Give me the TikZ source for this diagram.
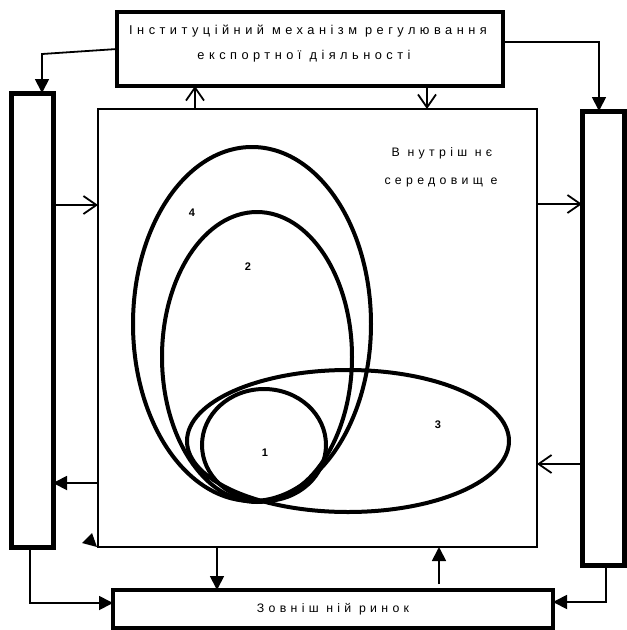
\documentclass[tikz,border=0pt]{standalone}
\usepackage{fontspec}
\setmainfont{Liberation Sans}
\newfontfamily\spaced[LetterSpace=35]{Liberation Sans}
\usetikzlibrary{arrows.meta}
\begin{document}
\begin{tikzpicture}[x=1pt,y=-1pt,
  box/.style={draw,line width=4pt,outer sep=0pt,inner sep=0pt,rectangle},
  bar/.style={draw,line width=5pt,outer sep=0pt,inner sep=0pt,rectangle},
  env/.style={draw,line width=1.6pt,outer sep=0pt,inner sep=0pt,rectangle},
  conn/.style={line width=1.8pt},
  openarr/.style={conn,-{Straight Barb[length=13pt,width=18pt,line width=1.8pt]}},
  fillarr/.style={conn,-{Triangle[length=14pt,width=14pt]}},
  ell/.style={line width=4pt},
  lbl/.style={font=\fontsize{11}{13}\selectfont\bfseries,inner sep=0pt},
  txt/.style={font=\fontsize{12.8}{15}\selectfont\spaced,inner sep=0pt,align=center},
  stxt/.style={font=\fontsize{12.3}{14}\selectfont\spaced,inner sep=0pt,align=center}]
\useasboundingbox (0,0) rectangle (627,630);
% boxes
\node[box,minimum width=386pt,minimum height=74pt] (top) at (310,49) {};
\node[bar,minimum width=42pt,minimum height=454pt] (left) at (32,320) {};
\node[bar,minimum width=42pt,minimum height=454pt] (right) at (603,338) {};
\node[env,minimum width=439pt,minimum height=438pt] (inner) at (317.5,328) {};
\node[box,minimum width=440pt,minimum height=38pt] (bottom) at (333,609) {};
% texts
\node[txt] (t1) at (308,31) {Інституційний механізм регулювання};
\node[txt] (t2) at (304,56) {експортної діяльності};
\node[stxt] (t3) at (333,609) {Зовніш ній ринок};
\node[stxt] (t4) at (442,153) {В нутріш нє};
\node[stxt] (t5) at (441,182) {середовищ е};
% ellipses
\draw[ell] (252,324) ellipse [x radius=119, y radius=177];
\draw[ell] (257,357) ellipse [x radius=95, y radius=145];
\draw[ell] (264,445) ellipse [x radius=62, y radius=56];
\draw[ell] (348,441) ellipse [x radius=161, y radius=71];
\node[lbl] (n4) at (192,213) {4};
\node[lbl] (n2) at (248,267) {2};
\node[lbl] (n3) at (438,425) {3};
\node[lbl] (n1) at (265,453) {1};
% connectors
\coordinate (c1) at (42,54);
\coordinate (c2) at (599,42);
\coordinate (c3) at (30,603);
\coordinate (c4) at (606,602);
\draw[fillarr] (top.west |- 0,49) -- (c1) -- (c1 |- left.north);
\draw[fillarr] (top.east |- c2) -- (c2) -- (c2 |- right.north);
\draw[openarr] (195,0 |- inner.north) -- (195,0 |- top.south);
\draw[openarr] (427,0 |- top.south) -- (427,0 |- inner.north);
\draw[openarr] (left.east |- 0,205) -- (inner.west |- 0,205);
\draw[openarr] (inner.east |- 0,204) -- (right.west |- 0,204);
\draw[openarr] (right.west |- 0,464) -- (inner.east |- 0,464);
\draw[fillarr] (inner.west |- 0,483) -- (left.east |- 0,483);
\draw[fillarr] (217,0 |- inner.south) -- (217,0 |- bottom.north);
\coordinate (c5) at (439,584);
\draw[fillarr] (c5) -- (c5 |- inner.south);
\draw[fillarr] (c3 |- left.south) -- (c3) -- (bottom.west |- c3);
\draw[fillarr] (c4 |- right.south) -- (c4) -- (bottom.east |- c4);
\fill (82,543) -- (92,533) -- (97,547) -- cycle;
\end{tikzpicture}
\end{document}
